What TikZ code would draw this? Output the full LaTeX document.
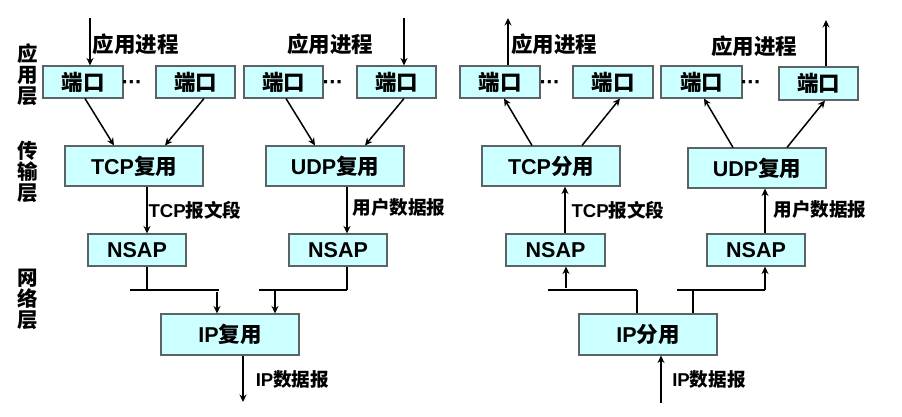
\documentclass[tikz,border=0pt]{standalone}
\usepackage{fontspec}
\setmainfont{Liberation Sans}
\newfontfamily\cjkb{Noto Sans CJK SC}
\newcommand{\zh}[1]{{\cjkb\bfseries #1}}
\usetikzlibrary{arrows.meta}
\definecolor{boxfill}{HTML}{CCFFFF}
\definecolor{boxline}{HTML}{5A6464}
\newcommand{\bx}[6]{%
  \pgfmathsetmacro{\bw}{#4-#2}\pgfmathsetmacro{\bh}{#5-#3}%
  \pgfmathsetmacro{\bcx}{(#4+#2)/2}\pgfmathsetmacro{\bcy}{(#5+#3)/2}%
  \node[boxn,minimum width=\bw pt,minimum height=\bh pt] (#1) at (\bcx,\bcy) {#6};}
\tikzset{
  boxn/.style={draw=boxline,fill=boxfill,line width=1.1pt,inner sep=0pt,font=\fontsize{21.5}{21.5}\selectfont\bfseries},
  arr/.style={draw=black,line width=1.5pt,-{Stealth[length=7.5pt,width=7pt]}},
  wire/.style={draw=black,line width=1.5pt},
  bar/.style={draw=black,line width=1.8pt},
  lab/.style={inner sep=0pt,font=\fontsize{18.6}{18.6}\selectfont\bfseries},
  proc/.style={inner sep=0pt,font=\fontsize{21.5}{21.5}\selectfont\bfseries},
  side/.style={inner sep=0pt,align=center,font=\fontsize{20.5}{21}\selectfont\bfseries},
  dotsn/.style={inner sep=0pt,font=\fontsize{22}{22}\selectfont\bfseries},
}
\begin{document}
\begin{tikzpicture}[x=1pt,y=-1pt]
\useasboundingbox (0,0) rectangle (902,416);
% boxes
\bx{pa}{43}{66}{123}{98}{\zh{端口}}
\bx{pb}{156}{66}{235}{98}{\zh{端口}}
\bx{pc}{244}{66}{323}{98}{\zh{端口}}
\bx{pd}{357}{66}{436}{98}{\zh{端口}}
\bx{pe}{460}{66}{540}{98}{\zh{端口}}
\bx{pf}{573}{66}{653}{98}{\zh{端口}}
\bx{pg}{661}{66}{742}{98}{\zh{端口}}
\bx{ph}{779}{67}{858}{100}{\zh{端口}}
\bx{tcpm}{65}{146}{203}{186}{TCP\zh{复用}}
\bx{udpm}{266}{146}{404}{186}{UDP\zh{复用}}
\bx{tcpd}{482}{146}{620}{186}{TCP\zh{分用}}
\bx{udpd}{688}{148}{826}{188}{UDP\zh{复用}}
\bx{na}{88}{234}{186}{266}{NSAP}
\bx{nb}{289}{234}{387}{266}{NSAP}
\bx{nc}{506}{234}{605}{266}{NSAP}
\bx{nd}{707}{234}{805}{266}{NSAP}
\bx{ipm}{161}{314}{299}{355}{IP\zh{复用}}
\bx{ipd}{579}{314}{717}{355}{IP\zh{分用}}
% side labels
\node[side] (sa) at (28,75) {\zh{应}\\\zh{用}\\\zh{层}};
\node[side] (sb) at (28,171.5) {\zh{传}\\\zh{输}\\\zh{层}};
\node[side] (sc) at (28,299) {\zh{网}\\\zh{络}\\\zh{层}};
% process labels
\node[proc] (la) at (135.5,44) {\zh{应用进程}};
\node[proc] (lb) at (330,44) {\zh{应用进程}};
\node[proc] (lc) at (554,44) {\zh{应用进程}};
\node[proc] (ld) at (754,46) {\zh{应用进程}};
% dots
\node[dotsn] (da) at (132,85) {·\kern-.6pt·\kern-.6pt·};
\node[dotsn] (db) at (333,85) {·\kern-.6pt·\kern-.6pt·};
\node[dotsn] (dc) at (550,85) {·\kern-.6pt·\kern-.6pt·};
\node[dotsn] (dd) at (751,85) {·\kern-.6pt·\kern-.6pt·};
% connector labels
\node[lab] (ta) at (195,210) {TCP\zh{报文段}};
\node[lab] (tb) at (399,207) {\zh{用户数据报}};
\node[lab] (tc) at (618,210) {TCP\zh{报文段}};
\node[lab] (td) at (820,209) {\zh{用户数据报}};
\node[lab] (te) at (292.5,379) {IP\zh{数据报}};
\node[lab] (tf) at (709,379) {IP\zh{数据报}};
% free ends
\coordinate (ia) at (90,18);
\coordinate (ib) at (404,18);
\coordinate (oa) at (508,18);
\coordinate (ob) at (826,20);
\coordinate (oc) at (243,402);
\coordinate (id) at (661,403);
\coordinate (ba1) at (130,290);
\coordinate (ba2) at (219,290);
\coordinate (bb1) at (259,290);
\coordinate (bb2) at (347,290);
\coordinate (bc1) at (548,290);
\coordinate (bc2) at (637,290);
\coordinate (bd1) at (677,290);
\coordinate (bd2) at (765,290);
\coordinate (ma) at (217,292);
\coordinate (mb) at (275,290);
\coordinate (mc) at (566,288);
\coordinate (md) at (693,290);
% left arrows
\draw[arr] (ia) -- (ia |- pa.north);
\draw[arr] (ib) -- (ib |- pd.north);
\draw[arr] ([xshift=2pt]pa.south) -- ([xshift=-20pt]tcpm.north);
\draw[arr] ([xshift=8.5pt]pb.south) -- ([xshift=31pt]tcpm.north);
\draw[arr] ([xshift=2.5pt]pc.south) -- ([xshift=-20pt]udpm.north);
\draw[arr] ([xshift=7.5pt]pd.south) -- ([xshift=30pt]udpm.north);
\draw[arr] ([xshift=13pt]tcpm.south) -- ([xshift=10pt]na.north);
\draw[arr] ([xshift=12pt]udpm.south) -- ([xshift=9pt]nb.north);
\draw[wire] ([xshift=10pt]na.south) -- ([xshift=10pt]na.south |- ba1);
\draw[bar] (ba1) -- (ba2);
\draw[arr] (ma) -- (ma |- ipm.north);
\draw[wire] ([xshift=9pt]nb.south) -- (bb2);
\draw[bar] (bb1) -- (bb2);
\draw[arr] (mb) -- (mb |- ipm.north);
\draw[arr] ([xshift=13pt]ipm.south) -- (oc);
% right arrows
\draw[arr] (oa |- pe.north) -- (oa);
\draw[arr] (ob |- ph.north) -- (ob);
\draw[arr] ([xshift=-19pt]tcpd.north) -- ([xshift=4pt]pe.south);
\draw[arr] ([xshift=31pt]tcpd.north) -- ([xshift=7pt]pf.south);
\draw[arr] ([xshift=-24pt]udpd.north) -- ([xshift=2.5pt]pg.south);
\draw[arr] ([xshift=30pt]udpd.north) -- ([xshift=6.5pt]ph.south);
\draw[arr] ([xshift=9.5pt]nc.north) -- ([xshift=14pt]tcpd.south);
\draw[arr] ([xshift=9pt]nd.north) -- ([xshift=8pt]udpd.south);
\draw[arr] (mc) -- (mc |- nc.south);
\draw[bar] (bc1) -- (bc2);
\draw[wire] (bc2) -- (bc2 |- ipd.north);
\draw[bar] (bd1) -- (bd2);
\draw[wire] (md) -- (md |- ipd.north);
\draw[arr] (bd2) -- (bd2 |- nd.south);
\draw[arr] (id) -- (id |- ipd.south);
\end{tikzpicture}
\end{document}
